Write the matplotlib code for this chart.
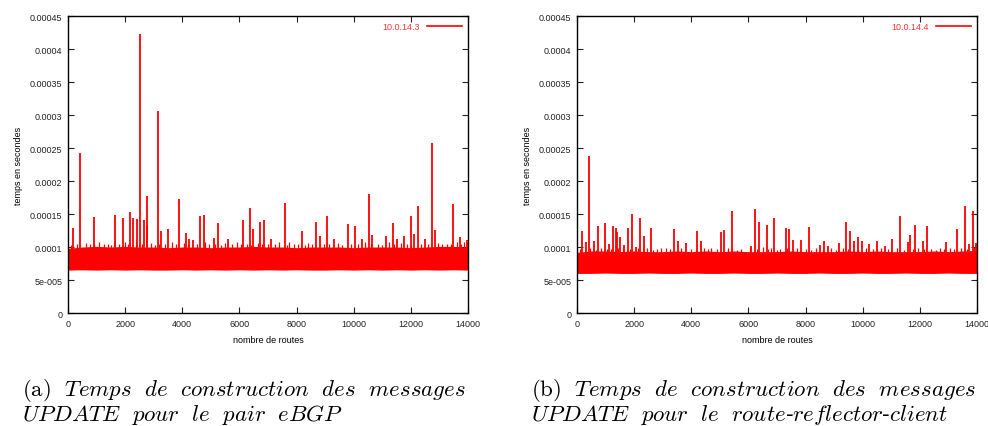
import matplotlib
matplotlib.use('Agg')
import matplotlib.pyplot as plt

plt.rcParams['font.family'] = ['Liberation Sans', 'DejaVu Sans']
plt.rcParams['mathtext.fontset'] = 'cm'

RED = '#ff0000'

# y tick labels as printed by gnuplot
y_ticks = [0, 5e-5, 1e-4, 1.5e-4, 2e-4, 2.5e-4, 3e-4, 3.5e-4, 4e-4, 4.5e-4]
y_labels = ['0', '5e-005', '0.0001', '0.00015', '0.0002', '0.00025',
            '0.0003', '0.00035', '0.0004', '0.00045']
x_ticks = [0, 2000, 4000, 6000, 8000, 10000, 12000, 14000]

# dense band of the measurements (lower / upper edge every 500 routes)
band_x = list(range(0, 14001, 500))
left_lo = [6.5e-5, 6.55e-5, 6.5e-5, 6.55e-5, 6.5e-5, 6.55e-5, 6.5e-5, 6.5e-5, 6.55e-5, 6.5e-5,
           6.55e-5, 6.5e-5, 6.55e-5, 6.5e-5, 6.55e-5, 6.5e-5, 6.55e-5, 6.5e-5, 6.5e-5, 6.55e-5,
           6.5e-5, 6.55e-5, 6.5e-5, 6.55e-5, 6.5e-5, 6.55e-5, 6.5e-5, 6.55e-5, 6.5e-5]
left_hi = [9.8e-5, 1.0e-4, 1.01e-4, 1.0e-4, 1.01e-4, 1.0e-4, 1.0e-4, 9.9e-5, 1.0e-4, 1.0e-4,
           9.9e-5, 1.0e-4, 1.0e-4, 1.01e-4, 1.0e-4, 1.0e-4, 9.9e-5, 1.0e-4, 1.0e-4, 1.0e-4,
           9.9e-5, 1.0e-4, 1.0e-4, 1.0e-4, 9.9e-5, 1.0e-4, 1.01e-4, 1.01e-4, 1.0e-4]
right_lo = [6.0e-5, 6.0e-5, 6.05e-5, 6.0e-5, 6.0e-5, 6.05e-5, 6.0e-5, 6.0e-5, 6.05e-5, 6.0e-5,
            6.0e-5, 6.05e-5, 6.0e-5, 6.0e-5, 6.05e-5, 6.0e-5, 6.0e-5, 6.05e-5, 6.0e-5, 6.0e-5,
            6.05e-5, 6.0e-5, 6.0e-5, 6.05e-5, 6.0e-5, 6.0e-5, 6.05e-5, 6.0e-5, 6.0e-5]
right_hi = [9.2e-5, 9.4e-5, 9.4e-5, 9.3e-5, 9.4e-5, 9.3e-5, 9.3e-5, 9.4e-5, 9.3e-5, 9.4e-5,
            9.3e-5, 9.4e-5, 9.3e-5, 9.3e-5, 9.3e-5, 9.4e-5, 9.3e-5, 9.3e-5, 9.3e-5, 9.4e-5,
            9.3e-5, 9.4e-5, 9.3e-5, 9.3e-5, 9.3e-5, 9.4e-5, 9.3e-5, 9.4e-5, 9.5e-5]

# spikes above the band (route index, seconds)
left_spike_x = [0, 163, 408, 910, 1657, 1913, 2158, 2275, 2403, 2520, 2648, 2753, 2777, 3138,
                3255, 3500, 3873, 4118, 4247, 4375, 4620, 4748, 5122, 5238, 5612, 6113, 6358,
                6487, 6732, 6848, 7093, 7583, 8190, 8680, 8808, 9053, 9298, 9788, 10033, 10278,
                10523, 10652, 11130, 11387, 11503, 11748, 11993, 12110, 12238, 12483, 12728,
                12845, 13463, 13708, 13953]
left_spike_y = [2.25e-4, 1.285e-4, 2.43e-4, 1.457e-4, 1.478e-4, 1.447e-4, 1.528e-4, 1.447e-4,
                1.427e-4, 4.235e-4, 1.41e-4, 1.78e-4, 1.33e-4, 3.066e-4, 1.24e-4, 1.275e-4,
                1.735e-4, 1.21e-4, 1.12e-4, 1.108e-4, 1.472e-4, 1.488e-4, 1.133e-4, 1.366e-4,
                1.12e-4, 1.41e-4, 1.59e-4, 1.275e-4, 1.386e-4, 1.41e-4, 1.12e-4, 1.67e-4,
                1.245e-4, 1.386e-4, 1.16e-4, 1.467e-4, 1.12e-4, 1.35e-4, 1.326e-4, 1.12e-4,
                1.796e-4, 1.184e-4, 1.174e-4, 1.366e-4, 1.12e-4, 1.16e-4, 1.467e-4, 1.2e-4,
                1.62e-4, 1.12e-4, 2.58e-4, 1.265e-4, 1.655e-4, 1.154e-4, 1.113e-4]
# small jags on top of the band
left_jag_x = [120, 300, 630, 780, 920, 1100, 1250, 1400, 1520, 1620, 1800, 2000, 2100, 2380,
              2600, 2900, 3050, 3180, 3400, 3650, 3780, 4050, 4200, 4520, 4800, 4950, 5150,
              5350, 5500, 5750, 5900, 6050, 6250, 6400, 6650, 6800, 7000, 7250, 7400, 7650,
              7750, 7900, 8050, 8300, 8400, 8550, 8950, 9150, 9450, 9600, 9900, 10150, 10400,
              10600, 10850, 11000, 11250, 11400, 11650, 11850, 12000, 12350, 12600, 12950,
              13100, 13250, 13400, 13600, 13750, 13850]
left_jag_y = [1.03e-4, 1.05e-4, 1.06e-4, 1.04e-4, 1.05e-4, 1.07e-4, 1.04e-4, 1.05e-4, 1.03e-4,
              1.06e-4, 1.04e-4, 1.07e-4, 1.05e-4, 1.08e-4, 1.04e-4, 1.06e-4, 1.03e-4, 1.05e-4,
              1.04e-4, 1.07e-4, 1.05e-4, 1.06e-4, 1.04e-4, 1.05e-4, 1.08e-4, 1.04e-4, 1.05e-4,
              1.03e-4, 1.06e-4, 1.04e-4, 1.07e-4, 1.04e-4, 1.05e-4, 1.03e-4, 1.06e-4, 1.04e-4,
              1.05e-4, 1.04e-4, 1.07e-4, 1.03e-4, 1.08e-4, 1.04e-4, 1.05e-4, 1.03e-4, 1.06e-4,
              1.04e-4, 1.05e-4, 1.04e-4, 1.06e-4, 1.03e-4, 1.05e-4, 1.04e-4, 1.07e-4, 1.04e-4,
              1.05e-4, 1.03e-4, 1.07e-4, 1.04e-4, 1.06e-4, 1.04e-4, 1.03e-4, 1.05e-4, 1.04e-4,
              1.06e-4, 1.04e-4, 1.05e-4, 1.04e-4, 1.07e-4, 1.05e-4, 1.08e-4]

right_spike_x = [0, 175, 303, 431, 594, 723, 991, 1119, 1259, 1352, 1387, 1515, 1655, 1784, 1923,
                 2051, 2191, 2331, 2587, 3392, 3532, 3800, 4208, 4336, 5024, 5152, 5420, 6097,
                 6225, 6365, 6633, 6890, 7298, 7426, 7566, 7834, 8102, 8499, 8639, 8767, 9163,
                 9431, 9571, 9699, 9839, 9967, 10235, 10503, 10771, 11039, 11307, 11575, 11668,
                 11831, 12099, 12239, 12915, 13312, 13580, 13720, 13848, 13976]
right_spike_y = [2.11e-4, 1.24e-4, 1.073e-4, 2.373e-4, 1.093e-4, 1.32e-4, 1.366e-4, 1.05e-4,
                 1.32e-4, 1.295e-4, 1.235e-4, 1.15e-4, 1.03e-4, 1.295e-4, 1.498e-4, 1.007e-4,
                 1.437e-4, 1.17e-4, 1.295e-4, 1.27e-4, 1.088e-4, 1.063e-4, 1.24e-4, 1.088e-4,
                 1.235e-4, 1.265e-4, 1.55e-4, 1.02e-4, 1.58e-4, 1.376e-4, 1.336e-4, 1.442e-4,
                 1.29e-4, 1.27e-4, 1.113e-4, 1.113e-4, 1.30e-4, 1.03e-4, 1.088e-4, 1.012e-4,
                 1.063e-4, 1.386e-4, 1.24e-4, 1.093e-4, 1.15e-4, 1.088e-4, 1.05e-4, 1.093e-4,
                 1.02e-4, 1.12e-4, 1.467e-4, 1.073e-4, 1.184e-4, 1.336e-4, 1.093e-4, 1.32e-4,
                 1.073e-4, 1.275e-4, 1.62e-4, 1.05e-4, 1.54e-4, 1.063e-4]
right_jag_x = [100, 450, 650, 850, 1050, 1200, 1450, 1600, 1850, 2150, 2450, 2650, 2800, 2950,
               3100, 3250, 3650, 4000, 4150, 4450, 4600, 4700, 4900, 5300, 5600, 5750, 6050,
               6300, 6500, 6700, 6800, 7000, 7100, 7350, 7700, 8000, 8200, 8350, 8600, 8900,
               9050, 9300, 9500, 9850, 10100, 10350, 10650, 10900, 11200, 11450, 11750, 11950,
               12150, 12400, 12550, 12700, 12850, 13050, 13200, 13450, 13650, 13900]
right_jag_y = [9.7e-5, 9.8e-5, 9.6e-5, 9.9e-5, 9.7e-5, 9.7e-5, 9.8e-5, 9.9e-5, 9.7e-5, 9.8e-5,
               9.8e-5, 9.6e-5, 9.7e-5, 9.8e-5, 9.9e-5, 9.7e-5, 9.8e-5, 9.7e-5, 9.6e-5, 9.9e-5,
               9.7e-5, 9.8e-5, 9.7e-5, 9.9e-5, 9.6e-5, 9.7e-5, 9.8e-5, 9.7e-5, 1.0e-4, 9.7e-5,
               9.8e-5, 9.6e-5, 9.7e-5, 9.8e-5, 9.8e-5, 9.7e-5, 9.6e-5, 9.9e-5, 9.7e-5, 9.8e-5,
               9.6e-5, 9.9e-5, 9.7e-5, 9.7e-5, 9.8e-5, 9.7e-5, 9.9e-5, 9.7e-5, 9.8e-5, 9.6e-5,
               9.7e-5, 9.9e-5, 9.7e-5, 9.7e-5, 9.6e-5, 9.8e-5, 9.7e-5, 9.9e-5, 9.7e-5, 9.8e-5,
               9.7e-5, 1.0e-4]

fig = plt.figure(figsize=(9.88, 4.27), dpi=100)
ax_a = fig.add_axes([0.0688, 0.2646, 0.4049, 0.6955])
ax_b = fig.add_axes([0.5840, 0.2646, 0.4049, 0.6955])


def draw_panel(ax, lo, hi, sx, sy, jx, jy, name):
    ax.fill_between(band_x, lo, hi, color=RED, lw=0)
    ax.vlines(jx, 8e-5, jy, color=RED, lw=0.9)
    ax.vlines(sx, 8e-5, sy, color=RED, lw=1.3)
    ax.plot([], [], color=RED, lw=1.2, label=name)
    ax.set_xlim(0, 14000)
    ax.set_ylim(0, 0.00045)
    ax.set_xticks(x_ticks)
    ax.set_xticklabels([str(t) for t in x_ticks])
    ax.set_yticks(y_ticks)
    ax.set_yticklabels(y_labels)
    ax.tick_params(direction='in', top=True, right=True, length=4, width=0.8,
                   labelsize=6.5, pad=4, colors='#222222')
    for s in ax.spines.values():
        s.set_linewidth(1.0)
    ax.set_xlabel('nombre de routes', fontsize=6.5, labelpad=5)
    ax.set_ylabel('temps en secondes', fontsize=6.5, labelpad=5)
    leg = ax.legend(loc='upper right', frameon=False, markerfirst=False, fontsize=6.5,
                    handlelength=3.8, borderaxespad=0.3)
    for t in leg.get_texts():
        t.set_color('#ff3333')


draw_panel(ax_a, left_lo, left_hi, left_spike_x, left_spike_y, left_jag_x, left_jag_y, '10.0.14.3')
draw_panel(ax_b, right_lo, right_hi, right_spike_x, right_spike_y, right_jag_x, right_jag_y, '10.0.14.4')

# sub-captions
cap_size = 16.5
fig.text(22 / 988, 1 - 396 / 427,
         r'$\mathrm{(a)}\ \ \mathit{Temps\ \ de\ \ construction\ \ des\ \ messages}$',
         fontsize=cap_size, va='baseline')
fig.text(22 / 988, 1 - 421 / 427, r'$\mathit{UPDATE\ \ pour\ \ le\ \ pair\ \ eBGP}$',
         fontsize=cap_size, va='baseline')
fig.text(531 / 988, 1 - 396 / 427,
         r'$\mathrm{(b)}\ \ \mathit{Temps\ \ de\ \ construction\ \ des\ \ messages}$',
         fontsize=cap_size, va='baseline')
fig.text(531 / 988, 1 - 421 / 427,
         r'$\mathit{UPDATE\ \ pour\ \ le\ \ route}$-$\mathit{reflector}$-$\mathit{client}$',
         fontsize=cap_size, va='baseline')

fig.savefig('out.png', dpi=100)
